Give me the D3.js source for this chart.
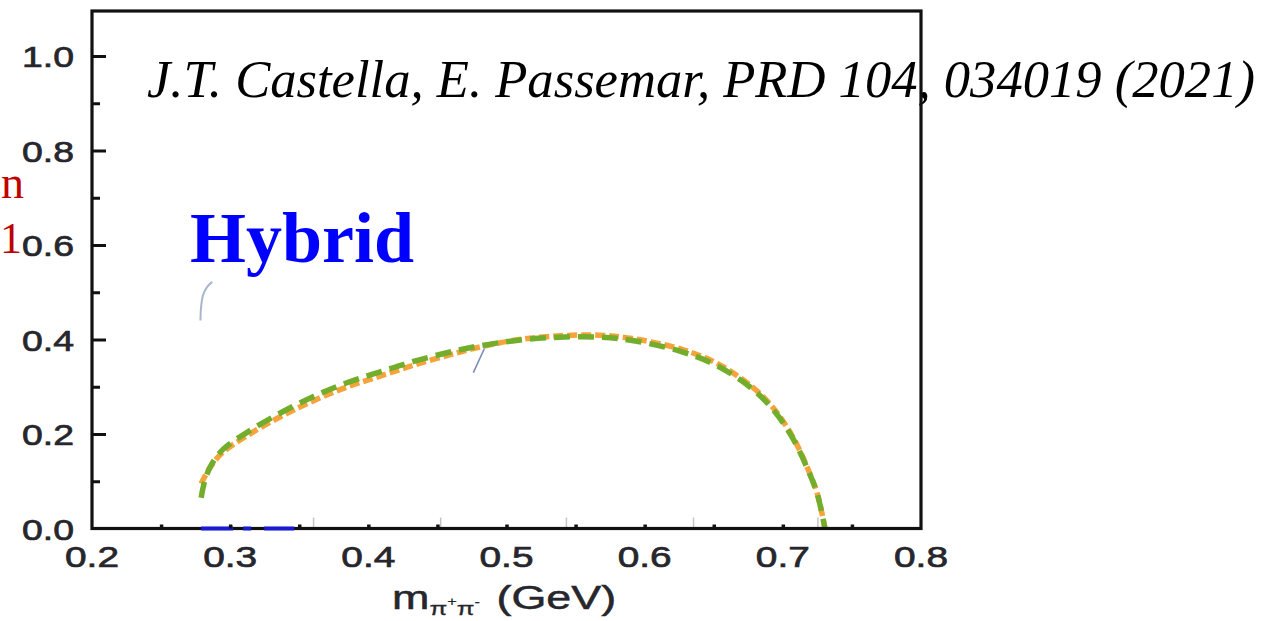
<!DOCTYPE html>
<html>
<head>
<meta charset="utf-8">
<script src="https://cdn.jsdelivr.net/npm/d3@7"></script>
<style>
body { margin: 0; background: #fff; }
svg { display: block; }
</style>
</head>
<body>
<svg id="chart"></svg>
<script>
// values
var massX   = [0.279, 0.282, 0.287, 0.295, 0.312, 0.336, 0.360, 0.384, 0.408, 0.432, 0.457, 0.476, 0.507, 0.539, 0.567, 0.591, 0.627, 0.652, 0.676, 0.692, 0.707, 0.718, 0.725, 0.7305];
var greenY  = [0.065, 0.105, 0.138, 0.168, 0.203, 0.244, 0.279, 0.308, 0.331, 0.353, 0.372, 0.384, 0.398, 0.405, 0.405, 0.398, 0.374, 0.345, 0.300, 0.255, 0.192, 0.125, 0.072, 0.0];
var orangeY = [0.095, 0.112, 0.136, 0.162, 0.196, 0.236, 0.270, 0.299, 0.322, 0.345, 0.366, 0.381, 0.399, 0.408, 0.409, 0.402, 0.379, 0.350, 0.304, 0.259, 0.195, 0.127, 0.073, 0.0];
var blueX = [0.279, 0.349];
var blueY = [0.0, 0.0];
var ghostArcX = [0.2785, 0.2790, 0.2805, 0.2835, 0.2870];
var ghostArcY = [0.440, 0.470, 0.495, 0.512, 0.522];
var ghostSlashX = [0.476, 0.484];
var ghostSlashY = [0.330, 0.381];

var yTicks = [0, 0.2, 0.4, 0.6, 0.8, 1.0];
var yMinor = [0.1, 0.3, 0.5, 0.7, 0.9];
var xTicks = [0.2, 0.3, 0.4, 0.5, 0.6, 0.7, 0.8];
var xMinor = [0.25, 0.3, 0.35, 0.4, 0.45, 0.5, 0.55, 0.6, 0.65, 0.7, 0.75];
var ghostTicks = [0.36, 0.452, 0.543, 0.635, 0.725];

var title = "J.T. Castella, E. Passemar, PRD 104, 034019 (2021)";
var tag = "Hybrid";

var W = 1274, H = 621;
var plot = {left: 92, right: 921, top: 11, bottom: 528.5};

var svg = d3.select("#chart")
    .attr("width", W)
    .attr("height", H);

svg.append("rect").attr("width", W).attr("height", H).attr("fill", "#fff");

var x = d3.scaleLinear().domain([0.2, 0.8]).range([plot.left, plot.right]);
var y = d3.scaleLinear().domain([0, 1.0]).range([plot.bottom, 56]);

// texts that sit under the frame
svg.append("text")
    .attr("x", 147)
    .attr("y", 97)
    .attr("font-family", "Liberation Serif, Times New Roman, serif")
    .attr("font-style", "italic")
    .attr("font-size", 52)
    .attr("textLength", 1108)
    .attr("lengthAdjust", "spacingAndGlyphs")
    .attr("fill", "#000")
    .text(title);

svg.append("text")
    .attr("x", 190)
    .attr("y", 262)
    .attr("font-family", "Liberation Serif, Times New Roman, serif")
    .attr("font-weight", "bold")
    .attr("font-size", 72)
    .attr("fill", "#0000ff")
    .text(tag);

// red fragments at the left edge
svg.append("text")
    .attr("x", 1).attr("y", 198)
    .attr("font-family", "Liberation Serif, serif")
    .attr("font-size", 46)
    .attr("fill", "#c00000")
    .text("n");
svg.append("text")
    .attr("x", 0).attr("y", 253)
    .attr("font-family", "Liberation Serif, serif")
    .attr("font-size", 44)
    .attr("fill", "#c00000")
    .text("1");

// faint ghost ticks on the bottom axis
svg.append("g")
    .attr("transform", "translate(0," + plot.bottom + ")")
    .call(d3.axisTop(x).tickValues(ghostTicks).tickSize(11).tickFormat(""))
    .call(function (g) {
        g.select(".domain").remove();
        g.selectAll("line").attr("stroke", "#c4c4cc").attr("stroke-width", 1.5);
    });

// curves
var line = d3.line()
    .x(function (d) { return x(d[0]); })
    .y(function (d) { return y(d[1]); })
    .curve(d3.curveCatmullRom.alpha(0.5));

var orangePts = massX.map(function (m, i) { return [m, orangeY[i]]; });
var greenPts = massX.map(function (m, i) { return [m, greenY[i]]; });

svg.append("path")
    .datum(orangePts)
    .attr("d", line)
    .attr("fill", "none")
    .attr("stroke", "#f5a43c")
    .attr("stroke-width", 5.5)
    .attr("stroke-dasharray", "10,4");

svg.append("path")
    .datum(greenPts)
    .attr("d", line)
    .attr("fill", "none")
    .attr("stroke", "#72ad2c")
    .attr("stroke-width", 5.5)
    .attr("stroke-dasharray", "16,8");

svg.append("path")
    .datum(ghostArcX.map(function (m, i) { return [m, ghostArcY[i]]; }))
    .attr("d", line)
    .attr("fill", "none")
    .attr("stroke", "#aab6cc")
    .attr("stroke-width", 2);

svg.append("path")
    .datum(ghostSlashX.map(function (m, i) { return [m, ghostSlashY[i]]; }))
    .attr("d", line)
    .attr("fill", "none")
    .attr("stroke", "#7d8cb8")
    .attr("stroke-width", 1.6);

// frame
svg.append("rect")
    .attr("x", plot.left)
    .attr("y", plot.top)
    .attr("width", plot.right - plot.left)
    .attr("height", plot.bottom - plot.top)
    .attr("fill", "none")
    .attr("stroke", "#111")
    .attr("stroke-width", 3.2);

// blue dashed on the axis
svg.append("path")
    .datum(blueX.map(function (m, i) { return [m, blueY[i]]; }))
    .attr("d", line)
    .attr("fill", "none")
    .attr("stroke", "#1a1ad6")
    .attr("stroke-width", 4)
    .attr("stroke-dasharray", "32,10,8,13,30,30");

// y ticks pointing inside
svg.append("g")
    .attr("transform", "translate(" + plot.left + ",0)")
    .call(d3.axisRight(y).tickValues(yTicks.slice(1)).tickSize(14).tickFormat(""))
    .call(function (g) { g.select(".domain").remove(); g.selectAll("line").attr("stroke", "#111").attr("stroke-width", 3); });
svg.append("g")
    .attr("transform", "translate(" + plot.left + ",0)")
    .call(d3.axisRight(y).tickValues(yMinor).tickSize(8).tickFormat(""))
    .call(function (g) { g.select(".domain").remove(); g.selectAll("line").attr("stroke", "#111").attr("stroke-width", 3); });

// x ticks, short bumps
svg.append("g")
    .attr("transform", "translate(0," + plot.bottom + ")")
    .call(d3.axisTop(x).tickValues(xMinor).tickSize(4).tickFormat(""))
    .call(function (g) { g.select(".domain").remove(); g.selectAll("line").attr("stroke", "#111").attr("stroke-width", 3.5); });

// tick labels
var labelFont = "Liberation Sans, Arial, sans-serif";
var labelColor = "#26262c";
svg.append("g").selectAll("text")
    .data(yTicks)
    .enter().append("text")
    .attr("x", 74)
    .attr("y", function (d) { return y(d) + 11; })
    .attr("text-anchor", "end")
    .attr("font-family", labelFont)
    .attr("font-size", 30)
    .attr("textLength", 52)
    .attr("lengthAdjust", "spacingAndGlyphs")
    .attr("fill", labelColor)
    .attr("stroke", labelColor)
    .attr("stroke-width", 0.7)
    .text(function (d) { return d.toFixed(1); });

svg.append("g").selectAll("text")
    .data(xTicks)
    .enter().append("text")
    .attr("x", function (d) { return x(d); })
    .attr("y", 567)
    .attr("text-anchor", "middle")
    .attr("font-family", labelFont)
    .attr("font-size", 30)
    .attr("textLength", 54)
    .attr("lengthAdjust", "spacingAndGlyphs")
    .attr("fill", labelColor)
    .attr("stroke", labelColor)
    .attr("stroke-width", 0.7)
    .text(function (d) { return d.toFixed(1); });

// x axis title m_{pi+ pi-} (GeV), stretched like the source
var xt = svg.append("text")
    .attr("transform", "translate(392,609) scale(1.36,1)")
    .attr("font-family", labelFont)
    .attr("fill", labelColor)
    .attr("stroke", labelColor)
    .attr("stroke-width", 0.5)
    .attr("font-size", 33);
xt.append("tspan").text("m");
xt.append("tspan").attr("dy", 6).attr("font-size", 19).attr("stroke-width", 0.3).text("\u03c0");
xt.append("tspan").attr("dy", -9).attr("font-size", 12).attr("stroke-width", 0.2).text("+");
xt.append("tspan").attr("dy", 9).attr("font-size", 19).attr("stroke-width", 0.3).text("\u03c0");
xt.append("tspan").attr("dy", -9).attr("font-size", 12).attr("stroke-width", 0.2).text("-");
xt.append("tspan").attr("dy", 3).attr("dx", 3).text(" (GeV)");
</script>
</body>
</html>
